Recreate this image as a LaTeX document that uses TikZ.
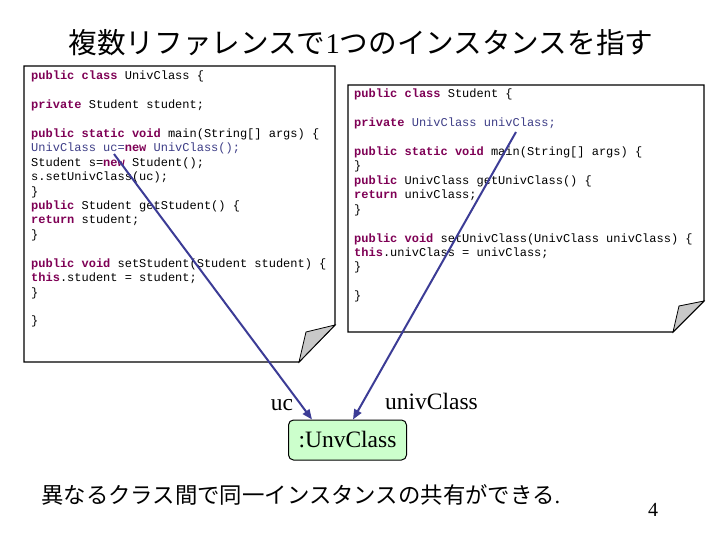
\documentclass[tikz,border=0pt]{standalone}
\usepackage{fontspec}
\setmainfont{Liberation Serif}
\setmonofont{Liberation Mono}
\newfontfamily\jpfont{Noto Sans CJK JP}
\usetikzlibrary{arrows.meta,calc}
\definecolor{kwcol}{RGB}{127,0,85}
\definecolor{fldcol}{RGB}{62,62,135}
\definecolor{arrcol}{RGB}{60,60,150}
\definecolor{objfill}{RGB}{204,255,204}
\definecolor{flapcol}{RGB}{200,200,200}
\newcommand\kw[1]{\textcolor{kwcol}{\bfseries #1}}
\newcommand\fld[1]{\textcolor{fldcol}{#1}}
\tikzset{
  codetxt/.style={anchor=base west, inner sep=0pt, font=\fontsize{12}{14}\selectfont\ttfamily},
  notebox/.style={draw=black, line width=1.2pt, fill=white},
  flap/.style={draw=black, line width=0.8pt, fill=flapcol},
  refarrow/.style={draw=arrcol, line width=2pt, -{Triangle[length=10pt,width=8pt]}},
  serifbig/.style={font=\fontsize{23.5}{28}\selectfont\rmfamily},
}
\begin{document}
\begin{tikzpicture}[x=1pt,y=-1pt]
\useasboundingbox (0,0) rectangle (720,540);
\fill[white] (0,0) rectangle (720,540);

% title
\node[font=\fontsize{28.6}{32}\selectfont\jpfont, inner sep=0pt] (title) at (361,43) {複数リファレンスで{\rmfamily 1}つのインスタンスを指す};

% left note
\path[notebox] (24,66) -- (335,66) -- (335,325) -- (299,362) -- (24,362) -- cycle;
\path[flap] (299,362) -- (306,332) -- (335,325) -- cycle;

\node[codetxt] (l0) at (31,80.0) {\kw{public class} UnivClass \{};
\node[codetxt] (l2) at (31,108.8) {\kw{private} Student student;};
\node[codetxt] (l4) at (31,137.6) {\kw{public static void} main(String[] args) \{};
\node[codetxt] (l5) at (31,152.0) {\fld{UnivClass uc=}\kw{new} \fld{UnivClass();}};
\node[codetxt] (l6) at (31,166.4) {Student s=\kw{new} Student();};
\node[codetxt] (l7) at (31,180.8) {s.setUnivClass(uc);};
\node[codetxt] (l8) at (31,195.2) {\}};
\node[codetxt] (l9) at (31,209.6) {\kw{public} Student getStudent() \{};
\node[codetxt] (l10) at (31,224.0) {\kw{return} student;};
\node[codetxt] (l11) at (31,238.4) {\}};
\node[codetxt] (l13) at (31,267.2) {\kw{public void} setStudent(Student student) \{};
\node[codetxt] (l14) at (31,281.6) {\kw{this}.student = student;};
\node[codetxt] (l15) at (31,296.0) {\}};
\node[codetxt] (l17) at (31,324.8) {\}};

% right note
\path[notebox] (348,85) -- (704,85) -- (704,301) -- (673,332) -- (348,332) -- cycle;
\path[flap] (673,332) -- (679,306) -- (704,301) -- cycle;

\node[codetxt] (r0) at (354,98.0) {\kw{public class} Student \{};
\node[codetxt] (r2) at (354,126.8) {\kw{private} \fld{UnivClass univClass;}};
\node[codetxt] (r4) at (354,155.6) {\kw{public static void} main(String[] args) \{};
\node[codetxt] (r5) at (354,170.0) {\}};
\node[codetxt] (r6) at (354,184.4) {\kw{public} UnivClass getUnivClass() \{};
\node[codetxt] (r7) at (354,198.8) {\kw{return} univClass;};
\node[codetxt] (r8) at (354,213.2) {\}};
\node[codetxt] (r10) at (354,242.0) {\kw{public void} setUnivClass(UnivClass univClass) \{};
\node[codetxt] (r11) at (354,256.4) {\kw{this}.univClass = univClass;};
\node[codetxt] (r12) at (354,270.8) {\}};
\node[codetxt] (r14) at (354,299.6) {\}};

% object
\node[draw=black, line width=1pt, fill=objfill, rounded corners=5pt, minimum width=118pt, minimum height=40pt, inner sep=0pt, serifbig] (obj) at (347.5,440) {:UnvClass};

% labels
\node[serifbig, anchor=base, inner sep=0pt] (uclab) at (282,410) {uc};
\node[serifbig, anchor=base, inner sep=0pt] (unlab) at (431.5,409) {univClass};

% reference arrows
\coordinate (ucsrc) at (114,154);
\coordinate (unsrc) at (516,132);
\coordinate (ucend) at ($(obj.north west)+(24,0)$);
\coordinate (unend) at ($(obj.north west)+(65,0)$);
\draw[refarrow] (ucsrc) -- (ucend);
\draw[refarrow] (unsrc) -- (unend);

% bottom text
\node[font=\fontsize{22.4}{26}\selectfont\jpfont, anchor=west, inner sep=0pt] (note) at (41,495) {異なるクラス間で同一インスタンスの共有ができる{\rmfamily .}};

\node[font=\fontsize{20}{24}\selectfont\rmfamily, inner sep=0pt] (page) at (653,510) {4};
\end{tikzpicture}
\end{document}
